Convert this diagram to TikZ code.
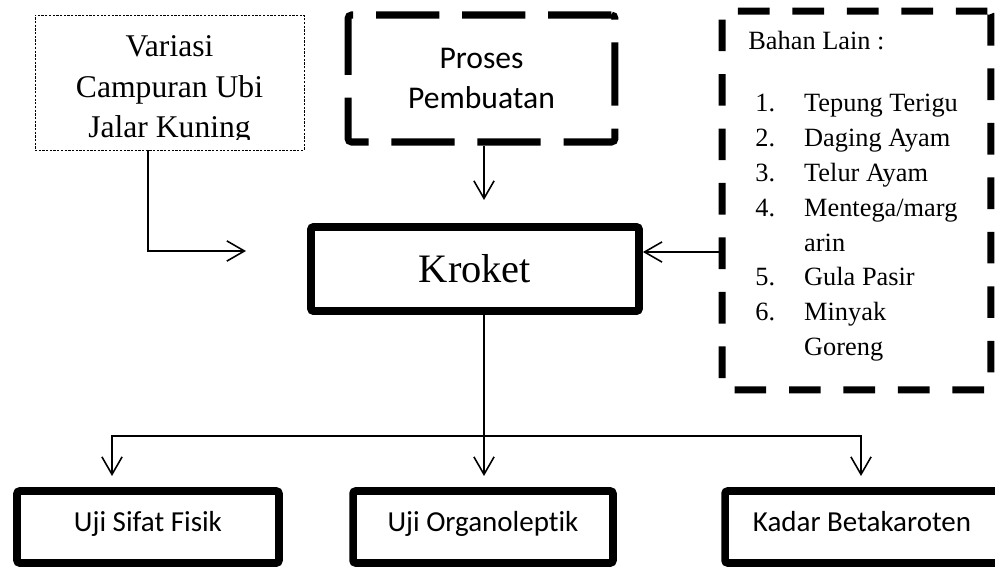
\documentclass[tikz,border=0pt]{standalone}
\usepackage{fontspec}
\setmainfont{Liberation Serif}
\newfontfamily\calibri[Ligatures=NoCommon]{Carlito}
\usetikzlibrary{arrows.meta, positioning}

\tikzset{
  arr/.style={-{Straight Barb[length=10pt, width=11.5pt]}, line width=0.9pt},
  link/.style={line width=0.9pt},
  thinbox/.style={draw, line width=0.5pt, dash pattern=on 1.3pt off 0.8pt},
  dashbox/.style={draw, line width=4pt, rounded corners=2pt},
  solidbox/.style={draw, line width=4.3pt, rounded corners=1.5pt,
    minimum height=1.44cm, text height=10pt, text depth=4.4pt,
    font=\calibri\fontsize{16.5}{19}\selectfont}
}

\begin{document}
\begin{tikzpicture}[x=0.02cm, y=-0.02cm]
  \useasboundingbox (0,0) rectangle (995,568);
  % --- kotak atas ---
  \node[thinbox, minimum width=5.38cm, minimum height=2.7cm] (variasi) at (169.5,82.5) {};
  \begin{scope}
    \clip (35,15) rectangle (304,139);
    \node[align=center, font=\fontsize{18}{23.2}\selectfont] (variasiTxt) at (169.5,90)
      {Variasi\\Campuran Ubi\\Jalar Kuning};
  \end{scope}
  \node[dashbox, dash pattern=on 36pt off 13pt, minimum width=5.34cm, minimum height=2.54cm,
    align=center, font=\calibri\fontsize{18}{23.2}\selectfont] (proses) at (481.5,78.5)
    {Proses\\Pembuatan};
  \node[dashbox, dash pattern=on 18pt off 13pt, minimum width=5.38cm, minimum height=7.58cm] (bahan) at (856.5,200.5) {};
  \node[anchor=base west, inner sep=0, font=\fontsize{15}{19.8}\selectfont] (bahanJudul) at (748,50) {Bahan Lain :};
  \node[anchor=base west, inner sep=0, font=\fontsize{15}{19.8}\selectfont] (bahanList) at (755,112)
    {\begin{tabular}[t]{@{}p{27.8pt}@{}l@{}}
      1. & Tepung Terigu\\
      2. & Daging Ayam\\
      3. & Telur Ayam\\
      4. & Mentega/marg\\
         & arin\\
      5. & Gula Pasir\\
      6. & Minyak\\
         & Goreng
    \end{tabular}};
  % --- produk ---
  \node[draw, line width=4.5pt, rounded corners=1.5pt, minimum width=6.56cm, minimum height=1.68cm,
    font=\fontsize{23}{27}\selectfont] (kroket) at (475,269) {Kroket};
  % --- pengujian ---
  \node[solidbox, minimum width=5.24cm] (ujiFisik) at (148,527) {Uji Sifat Fisik};
  \node[solidbox, minimum width=5.2cm] (ujiOrgano) at (483,527) {Uji Organoleptik};
  \node[solidbox, minimum width=5.48cm] (kadarBeta) at (862,527) {Kadar Betakaroten};
  % --- titik bantu ---
  \coordinate (varTurn) at (148,251);
  \coordinate (varEnd) at (246,251);
  \coordinate (prosesEnd) at (484,200);
  \coordinate (bahanOut) at (723,252);
  \coordinate (split) at (484,436);
  \coordinate (fisikIn) at (112,476);
  \coordinate (organoIn) at (484,476);
  \coordinate (betaIn) at (861,476);
  % --- panah ---
  \draw[arr] (variasi.south -| varTurn) -- (varTurn) -- (varEnd);
  \draw[arr] (proses.south -| prosesEnd) -- (prosesEnd);
  \draw[arr] (bahanOut) -- (bahanOut -| kroket.east);
  \draw[arr] (kroket.south -| split) -- (organoIn);
  \draw[arr] (split) -| (fisikIn);
  \draw[arr] (split) -| (betaIn);
\end{tikzpicture}
\end{document}
